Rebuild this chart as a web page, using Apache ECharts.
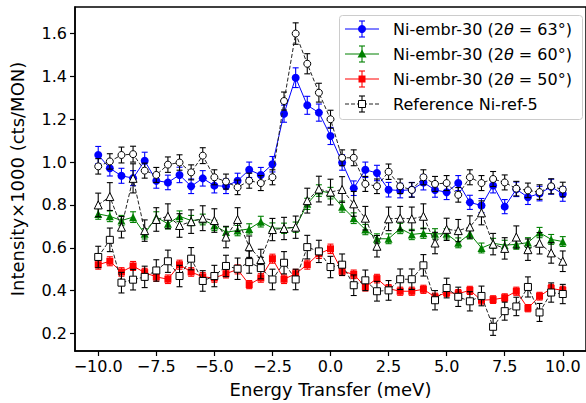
<!DOCTYPE html>
<html><head><meta charset="utf-8">
<script src="https://cdn.jsdelivr.net/npm/echarts@6/dist/echarts.min.js"></script>
<style>html,body{margin:0;padding:0;background:#fff}#c{width:586px;height:403px}</style>
</head><body><div id="c"></div>
<script>
const energy = [-10,-9.5,-9,-8.5,-8,-7.5,-7,-6.5,-6,-5.5,-5,-4.5,-4,-3.5,-3,-2.5,-2,-1.5,-1,-0.5,0,0.5,1,1.5,2,2.5,3,3.5,4,4.5,5,5.5,6,6.5,7,7.5,8,8.5,9,9.5,10];
const xTicks = [-10,-7.5,-5,-2.5,0,2.5,5,7.5,10];
const yTicks = [0.2,0.4,0.6,0.8,1.0,1.2,1.4,1.6];

const embr63 = [1.033,0.971,0.936,0.925,1.006,0.913,0.905,0.94,0.887,0.924,0.89,0.887,0.913,0.964,0.94,0.99,1.226,1.394,1.265,1.231,1.122,0.998,0.878,0.964,0.949,0.871,0.867,0.871,0.905,0.87,0.859,0.902,0.812,0.797,0.891,0.792,0.873,0.836,0.853,0.885,0.851];
const embr63Err = [0.04,0.036,0.035,0.035,0.04,0.035,0.034,0.036,0.034,0.036,0.034,0.034,0.035,0.036,0.035,0.036,0.04,0.046,0.042,0.04,0.04,0.036,0.034,0.036,0.036,0.034,0.034,0.034,0.035,0.034,0.034,0.035,0.033,0.033,0.035,0.033,0.034,0.034,0.034,0.035,0.034];

const embr60 = [0.758,0.747,0.727,0.743,0.665,0.743,0.712,0.747,0.727,0.732,0.704,0.673,0.68,0.688,0.722,0.692,0.691,0.696,0.805,0.867,0.855,0.792,0.738,0.685,0.642,0.642,0.69,0.662,0.668,0.665,0.665,0.623,0.665,0.599,0.621,0.612,0.616,0.624,0.671,0.639,0.629];
const embr60Err = [0.025,0.025,0.024,0.025,0.024,0.025,0.024,0.025,0.024,0.025,0.024,0.024,0.024,0.024,0.025,0.024,0.024,0.024,0.026,0.027,0.027,0.026,0.025,0.024,0.023,0.023,0.024,0.024,0.024,0.024,0.024,0.023,0.024,0.023,0.023,0.023,0.023,0.023,0.024,0.023,0.023];

const embr50 = [0.521,0.537,0.487,0.515,0.484,0.464,0.453,0.521,0.487,0.464,0.459,0.479,0.499,0.428,0.459,0.549,0.453,0.479,0.521,0.572,0.595,0.49,0.476,0.417,0.456,0.409,0.397,0.397,0.406,0.37,0.391,0.386,0.401,0.355,0.358,0.367,0.397,0.318,0.374,0.41,0.401];
const embr50Err = [0.021,0.021,0.02,0.021,0.02,0.02,0.02,0.021,0.02,0.02,0.02,0.02,0.021,0.019,0.02,0.021,0.02,0.02,0.021,0.022,0.022,0.02,0.02,0.019,0.02,0.019,0.019,0.019,0.019,0.018,0.019,0.019,0.019,0.018,0.018,0.018,0.019,0.017,0.018,0.019,0.019];

const ref63 = [0.98,1.003,1.033,1.037,0.96,0.94,0.988,0.998,0.952,1.03,0.929,0.909,0.882,0.913,0.902,0.929,1.285,1.6,1.459,1.324,1.2,1.02,1.02,0.898,0.887,0.955,0.887,0.87,0.929,0.898,0.902,0.847,0.929,0.902,0.921,0.905,0.876,0.868,0.86,0.887,0.872];
const ref63Err = [0.036,0.036,0.037,0.037,0.035,0.035,0.036,0.036,0.035,0.037,0.035,0.035,0.034,0.035,0.035,0.035,0.042,0.05,0.047,0.044,0.042,0.037,0.037,0.035,0.034,0.036,0.034,0.034,0.035,0.035,0.035,0.034,0.035,0.035,0.035,0.035,0.034,0.034,0.034,0.035,0.034];

const ref60 = [0.8,0.839,0.696,0.924,0.68,0.732,0.747,0.704,0.722,0.738,0.727,0.65,0.732,0.605,0.545,0.685,0.69,0.696,0.82,0.874,0.86,0.872,0.805,0.738,0.607,0.735,0.738,0.735,0.747,0.622,0.686,0.68,0.697,0.763,0.617,0.597,0.65,0.591,0.621,0.576,0.537];
const ref60Err = [0.055,0.065,0.05,0.068,0.05,0.055,0.058,0.055,0.055,0.058,0.055,0.05,0.055,0.05,0.048,0.052,0.052,0.052,0.058,0.06,0.06,0.06,0.058,0.055,0.05,0.055,0.055,0.055,0.058,0.05,0.052,0.052,0.052,0.056,0.05,0.05,0.052,0.05,0.05,0.048,0.048];

const ref50 = [0.557,0.637,0.437,0.451,0.464,0.494,0.537,0.468,0.549,0.445,0.468,0.515,0.502,0.533,0.505,0.452,0.53,0.452,0.603,0.583,0.51,0.521,0.425,0.448,0.397,0.401,0.453,0.453,0.518,0.355,0.412,0.371,0.35,0.375,0.231,0.304,0.326,0.417,0.298,0.391,0.384];
const ref50Err = [0.05,0.055,0.048,0.048,0.05,0.05,0.052,0.05,0.052,0.048,0.05,0.05,0.05,0.052,0.05,0.048,0.052,0.048,0.055,0.052,0.05,0.05,0.048,0.048,0.046,0.046,0.048,0.048,0.05,0.045,0.046,0.045,0.045,0.046,0.04,0.042,0.043,0.047,0.042,0.045,0.045];

const FONT = 'DejaVu Sans';
const chart = echarts.init(document.getElementById('c'), null, {renderer:'svg'});

function errSeries(vals, errs, color, z) {
  return {
    type:'custom', z, silent:true, animation:false, clip:false,
    data: energy.map((x,i)=>[x, vals[i]-errs[i], vals[i]+errs[i]]),
    encode:{x:0, y:[1,2]},
    renderItem(params, api) {
      const lo = api.coord([api.value(0), api.value(1)]);
      const hi = api.coord([api.value(0), api.value(2)]);
      const c = 3;
      const st = {stroke:color, lineWidth:1.1};
      return {type:'group', children:[
        {type:'line', shape:{x1:lo[0],y1:lo[1],x2:hi[0],y2:hi[1]}, style:st},
        {type:'line', shape:{x1:lo[0]-c,y1:lo[1],x2:lo[0]+c,y2:lo[1]}, style:st},
        {type:'line', shape:{x1:hi[0]-c,y1:hi[1],x2:hi[0]+c,y2:hi[1]}, style:st}
      ]};
    }
  };
}
function lineSeries(vals, color, symbol, size, z, open) {
  return {
    type:'line', z, animation:false, silent:true,
    data: energy.map((x,i)=>[x, vals[i]]),
    symbol, symbolSize:size, showAllSymbol:true,
    lineStyle: open ? {color:'#222', width:1, type:[4,2]} : {color, width:1},
    itemStyle: open ? {color:'#fff', borderColor:'#000', borderWidth:1} : {color, borderWidth:0}
  };
}

const series = [
  errSeries(embr63, embr63Err, '#0000ff', 2), lineSeries(embr63, '#0000ff', 'circle', 8, 3, false),
  errSeries(embr60, embr60Err, '#008000', 2), lineSeries(embr60, '#008000', 'triangle', 8, 3, false),
  errSeries(embr50, embr50Err, '#ff0000', 2), lineSeries(embr50, '#ff0000', 'rect', 7, 3, false),
  errSeries(ref63, ref63Err, '#000', 4), lineSeries(ref63, '#000', 'circle', 7, 5, true),
  errSeries(ref60, ref60Err, '#000', 4), lineSeries(ref60, '#000', 'triangle', 8, 5, true),
  errSeries(ref50, ref50Err, '#000', 4), lineSeries(ref50, '#000', 'rect', 7, 5, true)
];

const legendRows = [
  {label:'63', color:'#0000ff', mk:'circle', open:false},
  {label:'60', color:'#008000', mk:'triangle', open:false},
  {label:'50', color:'#ff0000', mk:'rect', open:false},
  {label:null, color:'#000', mk:'rect', open:true}
];
const rowY = [29, 54, 79, 104];
const gEls = [{type:'rect', shape:{x:339.5,y:15.5,width:243,height:104,r:3}, style:{fill:'rgba(255,255,255,0.8)', stroke:'#cccccc', lineWidth:1}, z:100}];
legendRows.forEach((r,i)=>{
  const cy = rowY[i], cx = 362;
  const lc = r.open ? '#222' : r.color;
  gEls.push({type:'line', shape:{x1:345,y1:cy,x2:379,y2:cy}, style:{stroke:lc, lineWidth:1, lineDash: r.open ? [4,2] : null}, z:101});
  const ec = r.open ? '#000' : r.color;
  gEls.push({type:'line', shape:{x1:cx,y1:cy-8,x2:cx,y2:cy+8}, style:{stroke:ec, lineWidth:1.1}, z:101});
  gEls.push({type:'line', shape:{x1:cx-3,y1:cy-8,x2:cx+3,y2:cy-8}, style:{stroke:ec, lineWidth:1.1}, z:101});
  gEls.push({type:'line', shape:{x1:cx-3,y1:cy+8,x2:cx+3,y2:cy+8}, style:{stroke:ec, lineWidth:1.1}, z:101});
  const ms = r.open ? {fill:'#fff', stroke:'#000', lineWidth:1} : {fill:r.color};
  if (r.mk==='circle') gEls.push({type:'circle', shape:{cx,cy,r:4}, style:ms, z:102});
  else if (r.mk==='triangle') gEls.push({type:'polygon', shape:{points:[[cx,cy-4.5],[cx+4.5,cy+3.5],[cx-4.5,cy+3.5]]}, style:ms, z:102});
  else gEls.push({type:'rect', shape:{x:cx-3.5,y:cy-3.5,width:7,height:7}, style:ms, z:102});
  const txt = r.label ? '{n|Ni-embr-30 (2}{i|θ}{n| = ' + r.label + '°)}' : '{n|Reference Ni-ref-5}';
  gEls.push({type:'text', x:393, y:cy, z:102, style:{text:txt, verticalAlign:'middle', fill:'#000',
    rich:{n:{fontFamily:FONT, fontSize:16, fill:'#000'}, i:{fontFamily:FONT, fontSize:16, fontStyle:'italic', fill:'#000'}}}});
});

chart.setOption({
  animation:false,
  backgroundColor:'#fff',
  grid:{left:69, top:7, width:522, height:346, show:true, borderColor:'#000', borderWidth:1.5, backgroundColor:'transparent'},
  xAxis:{type:'value', min:-11, max:11,
    name:'Energy Transfer (meV)', nameLocation:'middle', nameGap:29,
    nameTextStyle:{fontFamily:FONT, fontSize:18, color:'#000'},
    axisLine:{show:true, onZero:false, lineStyle:{color:'#000', width:1.5}},
    axisTick:{show:true, length:5, lineStyle:{color:'#000', width:1.2}, customValues:xTicks},
    axisLabel:{fontFamily:FONT, fontSize:16, color:'#000', margin:7, customValues:xTicks,
      formatter:v=> (v<0?'\u2212':'') + Math.abs(v).toFixed(1)},
    splitLine:{show:false}},
  yAxis:{type:'value', min:0.118, max:1.724,
    name:'Intensity×1000 (cts/MON)', nameLocation:'middle', nameGap:49,
    nameTextStyle:{fontFamily:FONT, fontSize:18, color:'#000'},
    axisLine:{show:true, onZero:false, lineStyle:{color:'#000', width:1.5}},
    axisTick:{show:true, length:5, lineStyle:{color:'#000', width:1.2}, customValues:yTicks},
    axisLabel:{fontFamily:FONT, fontSize:16, color:'#000', margin:8, customValues:yTicks,
      formatter:v=> v.toFixed(1)},
    splitLine:{show:false}},
  series,
  graphic:{elements:gEls}
});
</script></body></html>
